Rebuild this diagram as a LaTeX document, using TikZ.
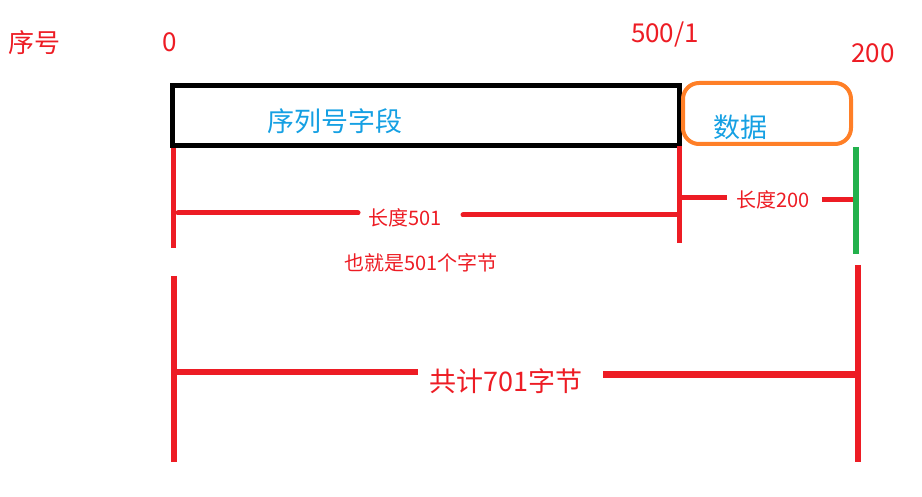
\documentclass[tikz,border=0pt]{standalone}
\usepackage{fontspec}
\setmainfont{Noto Sans CJK SC}
\definecolor{paintred}{HTML}{ED1C24}
\definecolor{paintblue}{HTML}{15A0E3}
\definecolor{paintorange}{HTML}{FF7F27}
\definecolor{paintgreen}{HTML}{22B14C}
\begin{document}
\begin{tikzpicture}[x=1pt,y=-1pt,
			redline/.style={draw=paintred,line width=5pt},
			lbl/.style={text=paintred,inner sep=0pt},
			big/.style={font=\fontsize{26}{30}\selectfont},
			small/.style={font=\fontsize{20}{23}\selectfont},
			field/.style={text=paintblue,inner sep=0pt,font=\fontsize{27}{30}\selectfont}
			]
			\useasboundingbox (0,0) rectangle (922,497);
			% top labels
			\node[lbl,big] (xuhao) at (35,43) {序号};
			\node[lbl,big] (zero) at (170,42) {0};
			\node[lbl,big] (mid) at (665,35) {500/1};
			\node[lbl,big] (end) at (873,53) {200};
			% fields
			\node[draw=black,line width=5pt,minimum width=507pt,minimum height=60pt] (seqbox) at (425.5,116) {};
			\node[field] (seqtext) at (335,121) {序列号字段};
			\node[draw=paintorange,line width=4pt,rounded corners=16pt,minimum width=168pt,minimum height=61pt] (databox) at (767,113.5) {};
			\node[field] (datatext) at (740,127) {数据};
			% ticks
			\coordinate (t1a) at (173,148);
			\coordinate (t1b) at (173,248);
			\coordinate (t2a) at (679,146);
			\coordinate (t2b) at (679,243);
			\coordinate (t3a) at (856,147);
			\coordinate (t3b) at (856,254);
			\draw[redline] (t1a) -- (t1b);
			\draw[redline] (t2a) -- (t2b);
			\draw[draw=paintgreen,line width=6pt] (t3a) -- (t3b);
			% length 501
			\node[lbl,small] (len501) at (405,218) {长度501};
			\coordinate (h1a) at (178,213);
			\coordinate (h1b) at (358,213);
			\coordinate (h1c) at (463,215);
			\coordinate (h1d) at (678,215);
			\draw[redline,line cap=round] (h1a) -- (h1b);
			\draw[redline,line cap=round] (h1c) -- (h1d);
			\node[lbl,small] (bytes501) at (421,263) {也就是501个字节};
			% length 200
			\node[lbl,small] (len200) at (773,200) {长度200};
			\coordinate (h2a) at (679,198);
			\coordinate (h2b) at (727,198);
			\coordinate (h2c) at (822,200);
			\coordinate (h2d) at (853,200);
			\draw[redline] (h2a) -- (h2b);
			\draw[redline] (h2c) -- (h2d);
			% total
			\coordinate (b1a) at (174,276);
			\coordinate (b1b) at (174,462);
			\coordinate (b2a) at (858,265);
			\coordinate (b2b) at (858,462);
			\draw[redline,line width=6pt] (b1a) -- (b1b);
			\draw[redline,line width=6pt] (b2a) -- (b2b);
			\node[lbl,big,font=\fontsize{27}{30}\selectfont] (total) at (506,381) {共计701字节};
			\coordinate (h3a) at (174,372);
			\coordinate (h3b) at (418,372);
			\coordinate (h3c) at (603,375);
			\coordinate (h3d) at (858,375);
			\draw[redline,line width=6pt] (h3a) -- (h3b);
			\draw[redline,line width=7pt] (h3c) -- (h3d);
		\end{tikzpicture}
\end{document}
